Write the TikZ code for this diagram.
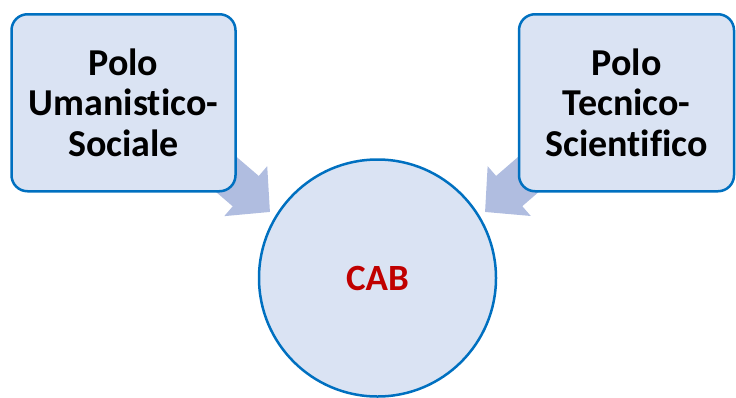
\documentclass[tikz,border=0pt]{standalone}
\usepackage{fontspec}
\setmainfont[Ligatures=NoCommon]{Carlito}
\usetikzlibrary{arrows.meta,positioning,calc,backgrounds}
\definecolor{boxfill}{HTML}{DAE3F3}
\definecolor{boxline}{HTML}{0070C0}
\definecolor{arrowfill}{HTML}{B0BDE0}
\definecolor{cabred}{HTML}{C00000}

\begin{document}
\begin{tikzpicture}[x=1pt,y=-1pt,
  polo/.style={rectangle, rounded corners=16pt, draw=boxline, line width=2.5pt, fill=boxfill,
    minimum width=224pt, minimum height=177pt, align=center,
    font=\fontsize{38}{40.5}\selectfont\bfseries},
  bigarrow/.style={draw=arrowfill, line width=40pt, -{Triangle[width=64pt,length=32pt]}}]
\useasboundingbox (0,0) rectangle (736,397);

% the two poles
\node[polo] (umanistico) at (123.5,102.75) {Polo\\Umanistico-\\Sociale};
\node[polo, minimum width=215pt] (tecnico) at (626.5,102.75) {Polo\\Tecnico-\\Scientifico};

% centre
\node[circle, draw=boxline, line width=2.5pt, fill=boxfill, minimum size=237pt,
  font=\fontsize{37}{41}\selectfont\bfseries, text=cabred] (cab) at (377.5,278) {CAB};

% block arrows behind the boxes
\coordinate (tipL) at (270,212);
\coordinate (tipR) at (485,212);
\begin{scope}[on background layer]
\draw[bigarrow] ($(umanistico.south east)+(-36,-40)$) -- (tipL);
\draw[bigarrow] ($(tecnico.south west)+(36,-40)$) -- (tipR);
\end{scope}
\end{tikzpicture}
\end{document}
